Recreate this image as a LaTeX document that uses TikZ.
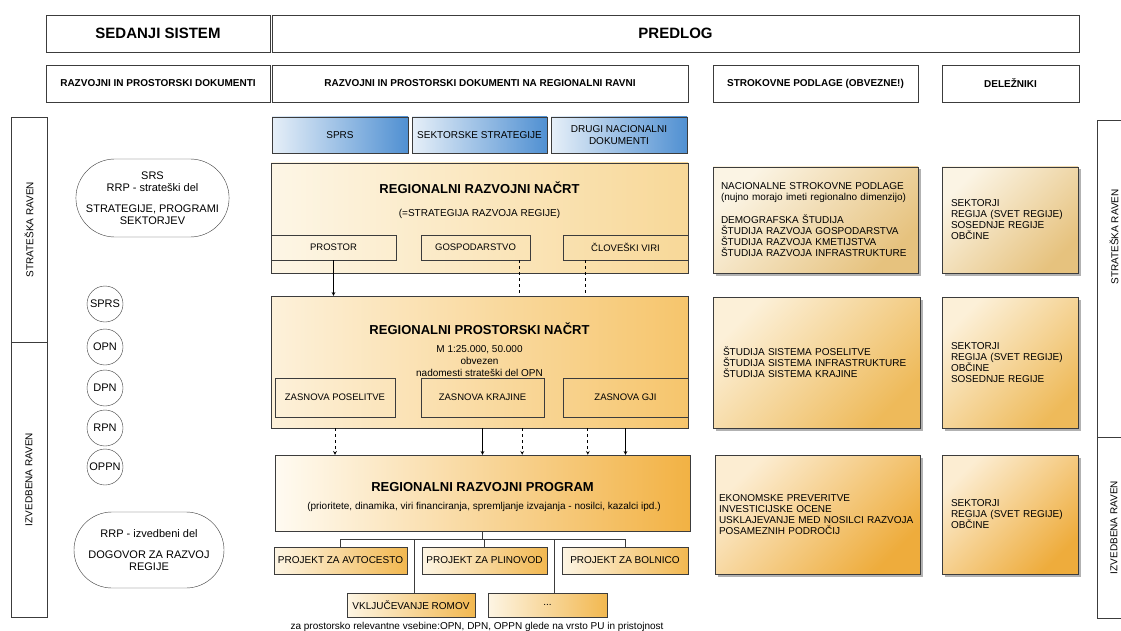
\documentclass[tikz,border=0pt]{standalone}
\usepackage{fontspec}
\setmainfont{Liberation Sans}
\usetikzlibrary{arrows,shapes.misc,shadows}

\definecolor{lineGray}{HTML}{3C3C3C}
\definecolor{blueL}{HTML}{E6EFF8}
\definecolor{blueR}{HTML}{5090D2}
\definecolor{rrnL}{HTML}{FDF6E6}
\definecolor{rrnR}{HTML}{F8D898}
\definecolor{rpnL}{HTML}{FDF1DA}
\definecolor{rpnR}{HTML}{F6C56C}
\definecolor{rrpL}{HTML}{FFFBF2}
\definecolor{rrpR}{HTML}{F2B244}
\definecolor{projL}{HTML}{FDF5E4}
\definecolor{projR}{HTML}{F2B850}
\definecolor{topL}{HTML}{FBF4E4}
\definecolor{topR}{HTML}{E6C27E}
\definecolor{midL}{HTML}{FCF0D8}
\definecolor{midR}{HTML}{EEBA5A}
\definecolor{botL}{HTML}{FCEDD2}
\definecolor{botR}{HTML}{EEAC3C}

\begin{document}
\begin{tikzpicture}[x=1pt,y=-1pt,
    hdrBox/.style={draw=lineGray,fill=white,inner sep=0pt,font=\bfseries\fontsize{15}{18}\selectfont},
    colBox/.style={draw=lineGray,fill=white,inner sep=0pt,font=\bfseries\fontsize{10}{12}\selectfont},
    levelBox/.style={draw=lineGray,inner sep=0pt,rotate=90,font=\fontsize{10}{12}\selectfont},
    docRound/.style={draw=lineGray,rounded rectangle,inner sep=0pt,align=center,font=\fontsize{11}{11.5}\selectfont},
    docCircle/.style={draw=lineGray,circle,minimum size=36,inner sep=0pt,font=\fontsize{11}{12}\selectfont},
    natBox/.style={draw=lineGray,left color=blueL,right color=blueR,inner sep=0pt,align=center,font=\fontsize{10}{12}\selectfont},
    planBox/.style={draw=lineGray,inner sep=0pt},
    partBox/.style={draw=lineGray,inner sep=0pt,font=\fontsize{9.5}{11}\selectfont},
    projBox/.style={draw=lineGray,left color=projL,right color=projR,inner sep=0pt,font=\fontsize{10}{12}\selectfont},
    titleTxt/.style={font=\bfseries\fontsize{13}{15}\selectfont},
    noteTxt/.style={align=center,font=\fontsize{10}{12}\selectfont},
    baseBox/.style={draw=lineGray,inner xsep=8pt,inner ysep=0pt,align=left,font=\fontsize{10}{11}\selectfont,
        drop shadow={shadow xshift=2.5pt,shadow yshift=-2.5pt,fill=black!60,opacity=0.5}},
    baseTop/.style={top color=topL,bottom color=topR,shading angle=45},
    baseMid/.style={top color=midL,bottom color=midR,shading angle=45},
    baseBot/.style={top color=botL,bottom color=botR,shading angle=45},
    flowArrow/.style={->,>=stealth,line width=0.7pt},
    flowDash/.style={flowArrow,dashed},
    linkDash/.style={dashed,line width=0.6pt},
    treeLine/.style={draw=lineGray,line width=0.7pt},
]
\fill[white] (0,0) rectangle (1121,631);
\useasboundingbox (0,0) rectangle (1121,631);

% header rows
\node[hdrBox,minimum width=224,minimum height=37] (SEDANJI) at (158,33.5) {SEDANJI SISTEM};
\node[hdrBox,minimum width=807,minimum height=37] (PREDLOG) at (675.5,33.5) {PREDLOG};
\node[colBox,minimum width=224,minimum height=37] (DOKSED) at (158,83.5) {RAZVOJNI IN PROSTORSKI DOKUMENTI};
\node[colBox,minimum width=416,minimum height=37] (DOKREG) at (480,83.5) {RAZVOJNI IN PROSTORSKI DOKUMENTI NA REGIONALNI RAVNI};
\node[colBox,minimum width=205,minimum height=37] (PODLAGE) at (815.5,83.5) {STROKOVNE PODLAGE (OBVEZNE!)};
\node[colBox,minimum width=137,minimum height=37] (DELEZ) at (1010.5,83.5) {DELEŽNIKI};

% level bars left and right
\node[levelBox,minimum width=225,minimum height=36] (LSTRAT) at (29,229.5) {STRATEŠKA RAVEN};
\node[levelBox,minimum width=275,minimum height=36] (LIZV) at (29,479.5) {IZVEDBENA RAVEN};
\node[levelBox,minimum width=317,minimum height=34] (RSTRAT) at (1114,278.5) {};
\node[rotate=90,font=\fontsize{10}{12}\selectfont] (RSTRATTXT) at (1114,237) {STRATEŠKA RAVEN};
\node[levelBox,minimum width=181,minimum height=34] (RIZV) at (1114,527.5) {IZVEDBENA RAVEN};

% current system
\node[docRound,minimum width=151,minimum height=78] (SRS) at (152.5,198)
    {SRS\\RRP - strateški del\\[10pt]STRATEGIJE, PROGRAMI\\SEKTORJEV};
\node[docCircle] (CSPRS) at (105,304) {SPRS};
\node[docCircle] (COPN) at (105,347) {OPN};
\node[docCircle] (CDPN) at (105,388) {DPN};
\node[docCircle] (CRPN) at (105,428) {RPN};
\node[docCircle] (COPPN) at (105,467) {OPPN};
\node[docRound,minimum width=150,minimum height=76] (RRPIZV) at (149,550)
    {RRP - izvedbeni del\\[10pt]DOGOVOR ZA RAZVOJ\\REGIJE};

% national documents
\node[natBox,minimum width=136,minimum height=36] (NSPRS) at (340,135) {SPRS};
\node[natBox,minimum width=135,minimum height=36] (NSEKT) at (479.5,135) {SEKTORSKE STRATEGIJE};
\node[natBox,minimum width=136,minimum height=36] (NDRUGI) at (619,135) {DRUGI NACIONALNI\\DOKUMENTI};

% regional development plan
\node[planBox,left color=rrnL,right color=rrnR,minimum width=417,minimum height=110] (RRN) at (479.5,218) {};
\node[titleTxt] (RRNT) at (479.5,188) {REGIONALNI RAZVOJNI NAČRT};
\node[noteTxt] (RRNS) at (479.5,214) {(=STRATEGIJA RAZVOJA REGIJE)};
\node[partBox,minimum width=125,minimum height=25] (PROSTOR) at (333.5,247.5) {PROSTOR};
\node[partBox,minimum width=109,minimum height=25] (GOSP) at (475.5,247.5) {GOSPODARSTVO};
\node[partBox,minimum width=125,minimum height=25] (CLOV) at (625.5,247.5) {ČLOVEŠKI VIRI};

% regional spatial plan
\node[planBox,left color=rpnL,right color=rpnR,minimum width=417,minimum height=132] (RPN) at (479.5,362) {};
\node[titleTxt] (RPNT) at (479.5,329) {REGIONALNI PROSTORSKI NAČRT};
\node[noteTxt] (RPNS) at (479.5,361) {M 1:25.000, 50.000\\obvezen\\nadomesti strateški del OPN};
\node[partBox,minimum width=120,minimum height=39] (POSEL) at (335,397.5) {ZASNOVA POSELITVE};
\node[partBox,minimum width=123,minimum height=39] (KRAJ) at (482.5,397.5) {ZASNOVA KRAJINE};
\node[partBox,minimum width=125,minimum height=39] (GJI) at (625.5,397.5) {ZASNOVA GJI};

% regional development programme
\node[planBox,left color=rrpL,right color=rrpR,minimum width=415,minimum height=76] (RRP) at (482.5,493) {};
\node[titleTxt] (RRPT) at (482.5,487) {REGIONALNI RAZVOJNI PROGRAM};
\node[noteTxt] (RRPS) at (484,507) {(prioritete, dinamika, viri financiranja, spremljanje izvajanja - nosilci, kazalci ipd.)};

% projects
\coordinate (SPLIT) at ([yshift=-8pt]RRP.south);
\node[projBox,minimum width=133,minimum height=27] (AVTO) at (340.5,560.5) {PROJEKT ZA AVTOCESTO};
\node[projBox,minimum width=125,minimum height=27] (PLIN) at (484.5,560.5) {PROJEKT ZA PLINOVOD};
\node[projBox,minimum width=126,minimum height=27] (BOLN) at (625,560.5) {PROJEKT ZA BOLNICO};
\node[projBox,minimum width=128,minimum height=24] (ROMI) at (411,605) {VKLJUČEVANJE ROMOV};
\node[projBox,minimum width=119,minimum height=24] (DOTS) at (547.5,605) {...};
\node[font=\fontsize{10}{11}\selectfont] (PUNOTE) at (477,627) {za prostorsko relevantne vsebine:OPN, DPN, OPPN glede na vrsto PU in pristojnost};

% expert bases and stakeholders
\node[baseBox,baseTop,minimum width=205,minimum height=106,text width=189] (STROKA) at (815.5,220)
    {NACIONALNE STROKOVNE PODLAGE\\(nujno morajo imeti regionalno dimenzijo)\\[12pt]DEMOGRAFSKA ŠTUDIJA\\ŠTUDIJA RAZVOJA GOSPODARSTVA\\ŠTUDIJA RAZVOJA KMETIJSTVA\\ŠTUDIJA RAZVOJA INFRASTRUKTURE};
\node[baseBox,baseTop,inner xsep=9pt,minimum width=136,minimum height=106,text width=118] (DELA) at (1010,220)
    {SEKTORJI\\REGIJA (SVET REGIJE)\\SOSEDNJE REGIJE\\OBČINE};
\node[baseBox,baseMid,inner xsep=10pt,minimum width=205,minimum height=131,text width=187] (STROKB) at (816.5,362.5)
    {ŠTUDIJA SISTEMA POSELITVE\\ŠTUDIJA SISTEMA INFRASTRUKTURE\\ŠTUDIJA SISTEMA KRAJINE};
\node[baseBox,baseMid,inner xsep=9pt,minimum width=136,minimum height=131,text width=118] (DELB) at (1010,362.5)
    {SEKTORJI\\REGIJA (SVET REGIJE)\\OBČINE\\SOSEDNJE REGIJE};
\node[baseBox,baseBot,inner xsep=4pt,minimum width=205,minimum height=119,text width=197] (STROKC) at (817.5,514.5)
    {EKONOMSKE PREVERITVE\\INVESTICIJSKE OCENE\\USKLAJEVANJE MED NOSILCI RAZVOJA\\POSAMEZNIH PODROČIJ};
\node[baseBox,baseBot,inner xsep=9pt,minimum width=136,minimum height=119,text width=118] (DELC) at (1010,514.5)
    {SEKTORJI\\REGIJA (SVET REGIJE)\\OBČINE};

% links between the plans
\draw[flowArrow] (PROSTOR.south) -- (PROSTOR.south |- RPN.north);
\draw[linkDash] ([xshift=-11pt]GOSP.south east) -- ([xshift=-11pt]GOSP.south east |- RPN.north);
\draw[linkDash] ([xshift=22pt]CLOV.south west) -- ([xshift=22pt]CLOV.south west |- RPN.north);
\draw[flowDash] (POSEL.south |- RPN.south) -- (POSEL.south |- RRP.north);
\draw[flowArrow] (KRAJ.south |- RPN.south) -- (KRAJ.south |- RRP.north);
\draw[flowDash] ([xshift=-22pt]KRAJ.south east |- RPN.south) -- ([xshift=-22pt]KRAJ.south east |- RRP.north);
\draw[flowDash] ([xshift=25pt]GJI.south west |- RPN.south) -- ([xshift=25pt]GJI.south west |- RRP.north);
\draw[flowArrow] (GJI.south |- RPN.south) -- (GJI.south |- RRP.north);

% project tree
\draw[treeLine] (RRP.south) -- (SPLIT);
\draw[treeLine] (AVTO.north) |- (SPLIT) -| (BOLN.north);
\draw[treeLine] (PLIN.north) -- (PLIN.north |- SPLIT);
\draw[treeLine] ([xshift=3pt]ROMI.north) -- ([xshift=3pt]ROMI.north |- SPLIT);
\draw[treeLine] ([xshift=7pt]DOTS.north) -- ([xshift=7pt]DOTS.north |- SPLIT);
\end{tikzpicture}
\end{document}
